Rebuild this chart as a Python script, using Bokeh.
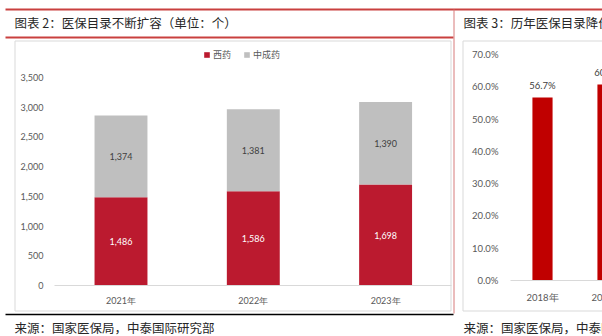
from bokeh.plotting import figure
from bokeh.models import (Range1d, LinearAxis, FixedTicker, NumeralTickFormatter,
                          PrintfTickFormatter, Legend, LegendItem, ColumnDataSource)
from bokeh.core.properties import value
from bokeh.embed import file_html
from bokeh.resources import INLINE

# ---------------- data ----------------
years_left = ["2021年", "2022年", "2023年"]
series_names = ["西药", "中成药"]
western = [1486, 1586, 1698]
tcm = [1374, 1381, 1390]
left_ticks = [0, 500, 1000, 1500, 2000, 2500, 3000, 3500]

years_right = ["2018年", "2019年"]
price_cut = [56.7, 60.7]
right_ticks = [0, 10, 20, 30, 40, 50, 60, 70]

title_left = "图表 2：医保目录不断扩容（单位：个）"
title_right = "图表 3：历年医保目录降价幅度"
source_text = "来源：国家医保局，中泰国际研究部"

# ---------------- styling ----------------
RED_BAR = "#BB1A2F"
GRAY_BAR = "#BFBFBF"
RED_BAR2 = "#C00000"
LINE_RED = "#C9403F"
BOX = "#D9D9D9"
AX_TXT = "#595959"
NUM_FONT = "Lato"
CJK = "Noto Sans CJK SC"

W, H = 602, 336


def lin_range(v0, px0, v1, px1, lo_px, hi_px):
    k = (px1 - px0) / (v1 - v0)
    return Range1d(v0 + (lo_px - px0) / k, v0 + (hi_px - px0) / k)


p = figure(width=W, height=H, output_backend="svg", toolbar_location=None,
           x_range=Range1d(0, W), y_range=Range1d(H, 0),
           x_axis_type=None, y_axis_type=None, min_border=0,
           outline_line_color=None, background_fill_color="white",
           border_fill_color="white")

# layout ranges for both charts (pixel placement of the two plot areas)
p.extra_x_ranges = {
    "lx": lin_range(0, 120.5, 1, 252.8, 0, W),
    "rx": lin_range(0, 542, 1, 607, 0, W),
}
p.extra_y_ranges = {
    "ly": lin_range(0, 285, 3500, 77, H, 0),
    "ry": lin_range(0, 280, 70, 54, H, 0),
}

# ---------------- page decorations ----------------
p.segment(x0=[5], y0=[9], x1=[W], y1=[9], line_color=LINE_RED, line_width=2)
p.segment(x0=[5], y0=[37], x1=[453], y1=[37], line_color=LINE_RED, line_width=2)
p.segment(x0=[453.5], y0=[9], x1=[453.5], y1=[313], line_color="#D77A7A", line_width=1)
p.segment(x0=[5], y0=[314], x1=[453], y1=[314], line_color="#000000", line_width=1.6)
p.quad(left=[14.5], right=[450.5], top=[40.5], bottom=[310.5], fill_color=None,
       line_color=BOX, line_width=1)
p.quad(left=[462.5], right=[640], top=[40.5], bottom=[310.5], fill_color=None,
       line_color=BOX, line_width=1)

p.text(x=[14, 463], y=[22, 22], text=[title_left, title_right],
       text_font=value(CJK), text_font_size="12.5px", text_baseline="middle",
       text_color="#262626")
p.text(x=[14, 463], y=[326.5, 326.5], text=[source_text, source_text],
       text_font=value(CJK), text_font_size="12.5px", text_baseline="middle",
       text_color="#262626")

# ---------------- left chart: stacked bars ----------------
xl = list(range(len(years_left)))
src = ColumnDataSource(dict(x=xl, **{series_names[0]: western, series_names[1]: tcm}))
rs = p.vbar_stack(series_names, x="x", width=0.4, fill_color=[RED_BAR, GRAY_BAR],
                  line_color=None, source=src, x_range_name="lx", y_range_name="ly")

p.text(x=xl, y=[w / 2 for w in western], text=[f"{w:,}" for w in western],
       x_range_name="lx", y_range_name="ly", text_align="center",
       text_baseline="middle", text_font=value(NUM_FONT), text_font_size="9px",
       text_color="white")
p.text(x=xl, y=[w + t / 2 for w, t in zip(western, tcm)], text=[f"{t:,}" for t in tcm],
       x_range_name="lx", y_range_name="ly", text_align="center",
       text_baseline="middle", text_font=value(NUM_FONT), text_font_size="9px",
       text_color="#404040")


def style_axis(ax, size="9px"):
    ax.major_tick_line_color = None
    ax.minor_tick_line_color = None
    ax.major_tick_in = 0
    ax.major_tick_out = 0
    ax.minor_tick_in = 0
    ax.minor_tick_out = 0
    ax.major_label_text_font = NUM_FONT
    ax.major_label_text_font_size = size
    ax.major_label_text_color = AX_TXT


ly_axis = LinearAxis(x_range_name="default", y_range_name="ly", fixed_location=54,
                     ticker=FixedTicker(ticks=left_ticks),
                     formatter=NumeralTickFormatter(format="0,0"),
                     axis_line_color=None, major_label_standoff=11)
style_axis(ly_axis)
p.add_layout(ly_axis, "left")

ov_l = {}
for i, y in enumerate(years_left):
    ov_l[i] = y
    ov_l[str(i)] = y
lx_axis = LinearAxis(x_range_name="lx", y_range_name="default", fixed_location=285,
                     ticker=FixedTicker(ticks=xl), major_label_overrides=ov_l,
                     bounds=(-0.5, len(xl) - 0.5), axis_line_color=BOX,
                     major_label_standoff=9)
style_axis(lx_axis)
p.add_layout(lx_axis, "below")

legend = Legend(items=[LegendItem(label=series_names[i], renderers=[rs[i]]) for i in range(2)],
                orientation="horizontal", location=(203, H - 61),
                label_text_font=CJK, label_text_font_size="9px", label_text_color=AX_TXT,
                glyph_width=7, glyph_height=7, label_standoff=3, spacing=10,
                padding=0, margin=0, border_line_color=None, background_fill_alpha=0,
                label_height=7)
p.add_layout(legend)

# ---------------- right chart: price cuts ----------------
xr = list(range(len(years_right)))
p.vbar(x=xr, top=price_cut, width=0.31, fill_color=RED_BAR2, line_color=None,
       x_range_name="rx", y_range_name="ry")
p.text(x=xr, y=price_cut, text=[f"{v:.1f}%" for v in price_cut], y_offset=-12,
       x_range_name="rx", y_range_name="ry", text_align="center",
       text_baseline="middle", text_font=value(NUM_FONT), text_font_size="9.5px",
       text_color="#404040")

ry_axis = LinearAxis(x_range_name="default", y_range_name="ry", fixed_location=509,
                     ticker=FixedTicker(ticks=right_ticks),
                     formatter=PrintfTickFormatter(format="%.1f%%"),
                     axis_line_color=None, major_label_standoff=11)
style_axis(ry_axis, "9.5px")
p.add_layout(ry_axis, "left")

# baseline of the right chart (category labels drawn at the same scale, since
# the second category sits at the page edge)
rx_axis = LinearAxis(x_range_name="rx", y_range_name="default", fixed_location=280,
                     ticker=FixedTicker(ticks=[]), bounds=(-0.5, len(xr) - 0.5),
                     axis_line_color=BOX)
style_axis(rx_axis, "9.5px")
p.add_layout(rx_axis, "below")
p.text(x=xr, y=[0] * len(xr), text=years_right, y_offset=17,
       x_range_name="rx", y_range_name="ry", text_align="center",
       text_baseline="middle", text_font=value(NUM_FONT), text_font_size="9.5px",
       text_color=AX_TXT)

open("out.html", "w").write(file_html(p, INLINE))
